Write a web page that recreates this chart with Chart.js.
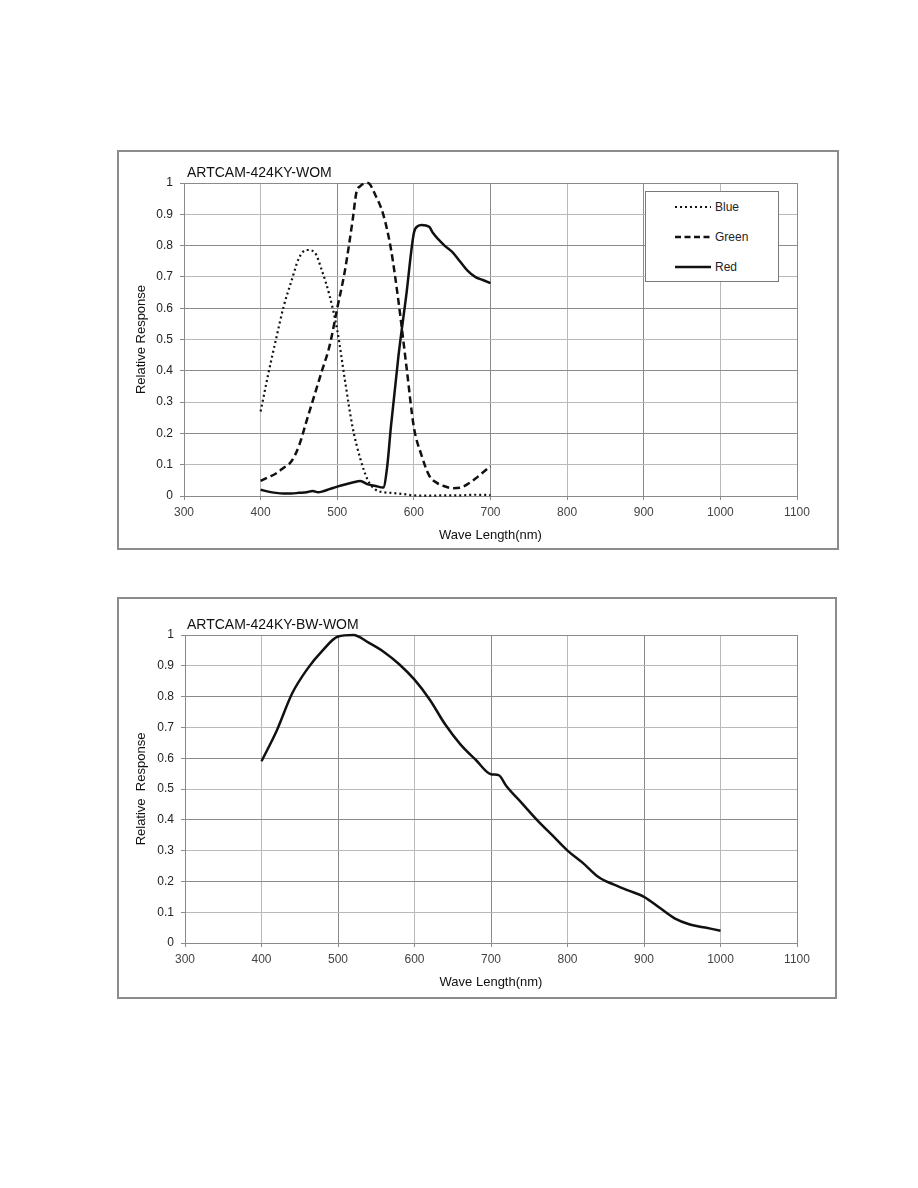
<!DOCTYPE html>
<html>
<head>
<meta charset="utf-8">
<script src="https://cdn.jsdelivr.net/npm/chart.js@4/dist/chart.umd.min.js"></script>
<style>
  html, body { margin: 0; padding: 0; background: #fff; }
  body { width: 918px; height: 1188px; position: relative; font-family: "Liberation Sans", Arial, sans-serif; }
  .frame { position: absolute; box-sizing: border-box; border: 2px solid #8c8c8c; }
  canvas { position: absolute; }
  #legend { position: absolute; left: 645px; top: 191px; width: 134px; height: 91px; box-sizing: border-box;
            border: 1px solid #7a7a7a; background: #fff; font-size: 12px; color: #222; }
  .row { position: absolute; left: 28px; height: 14px; display: flex; align-items: center; }
  .row svg { display: block; margin-right: 3px; }
</style>
</head>
<body>
<div class="frame" style="left:117px;top:150px;width:722px;height:400px;"></div>
<canvas id="c1" width="722" height="400" style="left:117px;top:150px;width:722px;height:400px;"></canvas>
<div id="legend">
  <div class="row" style="top:8px;"><svg width="38" height="6"><line x1="1" y1="3" x2="37" y2="3" stroke="#111" stroke-width="2" stroke-dasharray="2 3"/></svg><span>Blue</span></div>
  <div class="row" style="top:38px;"><svg width="38" height="6"><line x1="1" y1="3" x2="37" y2="3" stroke="#111" stroke-width="2.5" stroke-dasharray="6 3.5"/></svg><span>Green</span></div>
  <div class="row" style="top:68px;"><svg width="38" height="6"><line x1="1" y1="3" x2="37" y2="3" stroke="#111" stroke-width="2.5"/></svg><span>Red</span></div>
</div>
<div class="frame" style="left:117px;top:597px;width:720px;height:402px;"></div>
<canvas id="c2" width="720" height="402" style="left:117px;top:597px;width:720px;height:402px;"></canvas>
<script>
// ---- Data: top chart (ARTCAM-424KY-WOM) ----
const blueX  = [400,410,420,430,440,450,460,470,480,490,500,510,520,530,540,550,560,570,580,590,600,620,640,660,680,700];
const blueY  = [0.27,0.39,0.50,0.605,0.685,0.76,0.786,0.78,0.72,0.64,0.53,0.37,0.22,0.12,0.05,0.02,0.012,0.01,0.008,0.005,0.002,0.001,0.002,0.002,0.004,0.003];
const greenX = [400,410,420,430,440,450,460,470,480,490,500,510,520,525,530,540,550,560,570,580,590,600,610,620,630,640,650,660,670,680,690,700];
const greenY = [0.048,0.06,0.072,0.09,0.11,0.16,0.24,0.32,0.40,0.48,0.60,0.72,0.88,0.97,0.99,1.0,0.96,0.90,0.79,0.62,0.42,0.22,0.13,0.065,0.042,0.031,0.025,0.026,0.038,0.055,0.075,0.095];
const redX   = [400,410,420,430,440,450,460,468,475,480,490,500,510,520,530,540,550,560,565,570,580,590,600,605,610,620,625,640,650,660,670,680,690,700];
const redY   = [0.02,0.014,0.01,0.008,0.008,0.01,0.012,0.016,0.012,0.014,0.022,0.03,0.037,0.043,0.048,0.037,0.032,0.027,0.09,0.22,0.45,0.64,0.84,0.862,0.866,0.86,0.84,0.80,0.78,0.75,0.72,0.70,0.69,0.68];
// ---- Data: bottom chart (ARTCAM-424KY-BW-WOM) ----
const bwX = [400,420,440,460,480,500,520,540,560,580,600,620,640,660,680,700,710,720,740,760,780,800,820,840,860,880,900,920,940,960,980,1000];
const bwY = [0.59,0.69,0.81,0.89,0.95,0.995,1.0,0.975,0.945,0.905,0.855,0.79,0.71,0.645,0.595,0.548,0.545,0.51,0.455,0.40,0.35,0.30,0.26,0.215,0.19,0.17,0.15,0.115,0.08,0.06,0.05,0.04];
// ---- Axes ----
const xMin = 300, xMax = 1100, xStep = 100;
const yMin = 0, yMax = 1, yStep = 0.1;
const titles = ["ARTCAM-424KY-WOM", "ARTCAM-424KY-BW-WOM"];
const xTitle = "Wave Length(nm)";
const yTitles = ["Relative Response", "Relative  Response"];

const pts = (xs, ys) => xs.map((x, i) => ({ x: x, y: ys[i] }));
const FONT = "'Liberation Sans', Arial, sans-serif";

function makeChart(id, datasets, title, yTitle, geo) {
  const titlePlugin = {
    id: 'tp',
    afterDraw(chart) {
      const c = chart.ctx;
      c.save();
      c.font = "14px " + FONT;
      c.fillStyle = "#111";
      c.textBaseline = "alphabetic";
      c.fillText(title, geo.tx, geo.ty);
      c.restore();
    }
  };
  const gridColor = ctx => (ctx.index % 2 === 0 ? '#8a8a8a' : '#b9b9b9');
  return new Chart(document.getElementById(id), {
    type: 'scatter',
    data: { datasets: datasets },
    plugins: [titlePlugin],
    options: {
      responsive: false,
      animation: false,
      layout: { padding: { top: geo.top, right: geo.right, left: 0, bottom: 0 } },
      plugins: { legend: { display: false }, tooltip: { enabled: false } },
      elements: { point: { radius: 0 } },
      scales: {
        x: {
          type: 'linear', min: xMin, max: xMax,
          afterFit: s => { s.height = geo.xh; },
          ticks: { stepSize: xStep, padding: 5, color: '#444', font: { family: FONT, size: 12 },
                   callback: v => String(Math.round(v)) },
          grid: { color: gridColor, lineWidth: 1, tickLength: 4, tickColor: '#8a8a8a' },
          border: { color: '#8a8a8a' },
          title: { display: true, text: xTitle, color: '#111', font: { family: FONT, size: 13 }, padding: { top: 0, bottom: geo.xtp } }
        },
        y: {
          type: 'linear', min: yMin, max: yMax,
          afterFit: s => { s.width = geo.yw; },
          ticks: { stepSize: yStep, padding: 7, color: '#222', font: { family: FONT, size: 12 },
                   callback: v => String(Math.round(v * 10) / 10) },
          grid: { color: gridColor, lineWidth: 1, tickLength: 4, tickColor: '#8a8a8a' },
          border: { color: '#8a8a8a' },
          title: { display: true, text: yTitle, color: '#111', font: { family: FONT, size: 13 }, padding: { top: geo.ytp, bottom: 0 } }
        }
      }
    }
  });
}

const lineBase = { showLine: true, borderColor: '#111', borderWidth: 2.5, fill: false, cubicInterpolationMode: 'monotone', clip: false, pointRadius: 0 };

makeChart('c1', [
  Object.assign({}, lineBase, { label: 'Blue',  data: pts(blueX, blueY),  borderDash: [2, 3], borderWidth: 2.2 }),
  Object.assign({}, lineBase, { label: 'Green', data: pts(greenX, greenY), borderDash: [7, 4] }),
  Object.assign({}, lineBase, { label: 'Red',   data: pts(redX, redY) })
], titles[0], yTitles[0], { top: 33, right: 42, xh: 54, yw: 67, tx: 70, ty: 27, xtp: 7, ytp: 17 });

makeChart('c2', [
  Object.assign({}, lineBase, { label: 'BW', data: pts(bwX, bwY) })
], titles[1], yTitles[1], { top: 38, right: 40, xh: 56, yw: 68, tx: 70, ty: 32, xtp: 9, ytp: 17 });
</script>
</body>
</html>
